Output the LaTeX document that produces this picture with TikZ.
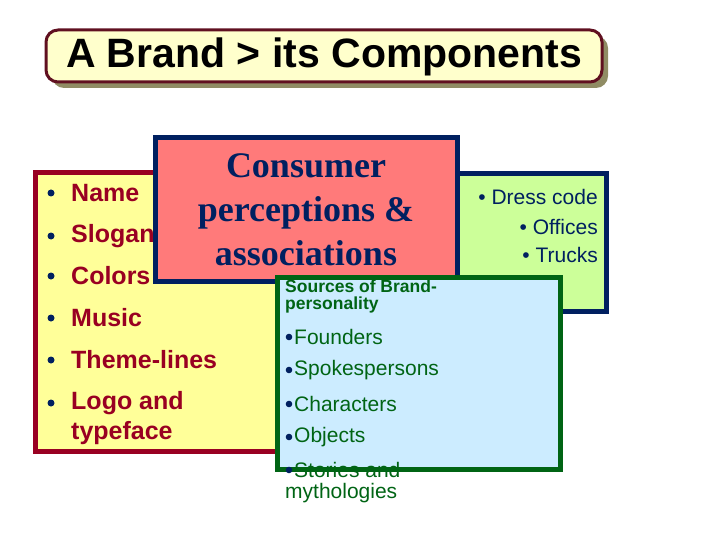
\documentclass[tikz,border=0pt]{standalone}
\usepackage{fontspec}
\setmainfont{Liberation Sans}
\newfontfamily\serifb{Liberation Serif}[BoldFont={* Bold}]
\definecolor{maroon}{RGB}{153,0,34}
\definecolor{navy}{RGB}{0,32,96}
\definecolor{dgreen}{RGB}{0,100,20}
\definecolor{ylw}{RGB}{255,255,153}
\definecolor{pinkr}{RGB}{255,122,122}
\definecolor{lgreen}{RGB}{204,255,153}
\definecolor{lblue}{RGB}{204,236,255}
\definecolor{titlef}{RGB}{255,255,204}
\definecolor{titleb}{RGB}{96,16,32}
\begin{document}
\begin{tikzpicture}[x=1pt,y=-1pt,
  item/.style={anchor=west,font=\bfseries\fontsize{25}{28}\selectfont,text=maroon,inner sep=0pt},
  gitem/.style={anchor=west,font=\fontsize{21}{21}\selectfont,text=dgreen,inner sep=0pt},
  ritem/.style={anchor=east,font=\fontsize{21}{21}\selectfont,text=navy,inner sep=0pt}]
\useasboundingbox (0,0) rectangle (720,540);
% title
\fill[gray!70!olive,rounded corners=12] (52,36) rectangle (608,88);
\draw[line width=3pt,titleb,fill=titlef,rounded corners=12] (46,30) rectangle (602,82);
\node[font=\bfseries\fontsize{41}{42}\selectfont,inner sep=0] (title) at (324,57) {A Brand > its Components};
% green box
\draw[line width=5pt,navy,fill=lgreen] (440,174) rectangle (606,311);
\node[ritem] (d1) at (598,197) {• Dress code};
\node[ritem] (d2) at (598,227) {• Offices};
\node[ritem] (d3) at (598,255) {• Trucks};
% yellow box
\draw[line width=5pt,maroon,fill=ylw] (35,173) rectangle (300,451);
\foreach \t/\y [count=\i] in {Name/193,Slogan/236,Colors/276,Music/318,Theme-lines/360,Logo and/403}{
  \fill[navy] (51,\y) circle (3.5pt);
  \node[item] (i\i) at (71,\y) {\t};
}
\node[item] (i7) at (71,433) {typeface};
% red box
\draw[line width=5pt,navy,fill=pinkr] (155,138) rectangle (457,281);
\node[font=\serifb\bfseries\fontsize{36}{44}\selectfont,text=navy,align=center] (cons) at (306,210) {Consumer\\perceptions \&\\associations};
% blue box
\draw[line width=5pt,dgreen,fill=lblue] (277,277) rectangle (560,469);
\node[anchor=north west,font=\bfseries\fontsize{17.5}{17}\selectfont,text=dgreen,align=left,inner sep=0] (src) at (285,280) {Sources of Brand-\\personality};
\foreach \t/\y [count=\i] in {Founders/337,Spokespersons/370,Characters/404,Objects/437,Stories and/470}{
  \fill[navy] (289,\y) circle (3.3pt);
  \node[gitem] (g\i) at (294,\y) {\t};
}
\node[gitem] (g6) at (285,493) {mythologies};
\end{tikzpicture}
\end{document}
